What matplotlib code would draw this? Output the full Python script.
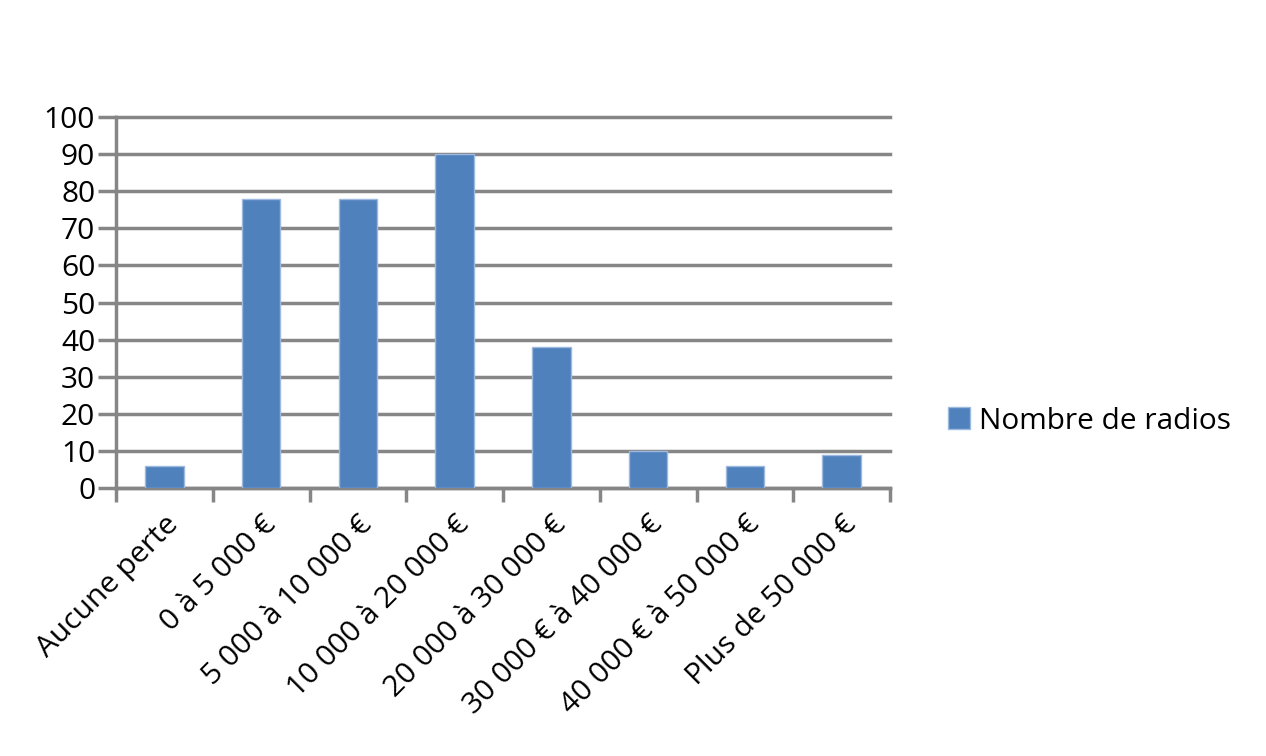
import numpy as np
import matplotlib.pyplot as plt

# Données
categories = ["Aucune perte", "0 à 5 000 €", "5 000 à 10 000 €", "10 000 à 20 000 €",
              "20 000 à 30 000 €", "30 000 € à 40 000 €", "40 000 € à 50 000 €",
              "Plus de 50 000 €"]
valeurs = [6, 78, 78, 90, 38, 10, 6, 9]
serie = "Nombre de radios"

plt.rcParams['font.family'] = ['Open Sans', 'DejaVu Sans']

gris = "#868686"
bleu = "#4F81BD"
taille = 21.5

fig = plt.figure(figsize=(12.66, 7.56), dpi=100)
ax = fig.add_axes([116/1266, (756-488)/756, 774/1266, 371/756])

x = np.arange(len(categories))
ax.bar(x, valeurs, width=0.4, color=bleu, edgecolor="#9DB9DE", linewidth=1,
       label=serie, zorder=3)

ax.set_xlim(-0.5, len(categories) - 0.5)
ax.set_ylim(0, 100)
ax.set_yticks(np.arange(0, 101, 10))
ax.yaxis.grid(True, color=gris, linewidth=2.5, zorder=0)
for g in ax.get_ygridlines():
    g.set_clip_on(False)

# ticks x entre les catégories
ax.set_xticks(np.arange(-0.5, len(categories), 1))
ax.set_xticklabels([])
ax.set_xticks(x, minor=True)
ax.set_xticklabels(categories, minor=True, rotation=45, ha="right",
                   rotation_mode="anchor", fontsize=taille)
ax.tick_params(axis="x", which="minor", length=0, pad=16)
ax.tick_params(axis="x", which="major", length=10, width=2.5, color=gris)
ax.tick_params(axis="y", length=13, width=2.5, color=gris, labelsize=taille, pad=2)

for s in ["top", "right"]:
    ax.spines[s].set_visible(False)
for s in ["left", "bottom"]:
    ax.spines[s].set_color(gris)
    ax.spines[s].set_linewidth(2.5)

ax.legend(loc="center left", bbox_to_anchor=(1.04, 0.18), frameon=False,
          fontsize=taille, handlelength=0.75, handleheight=0.75, handletextpad=0.3)

fig.savefig("out.png", dpi=100)
